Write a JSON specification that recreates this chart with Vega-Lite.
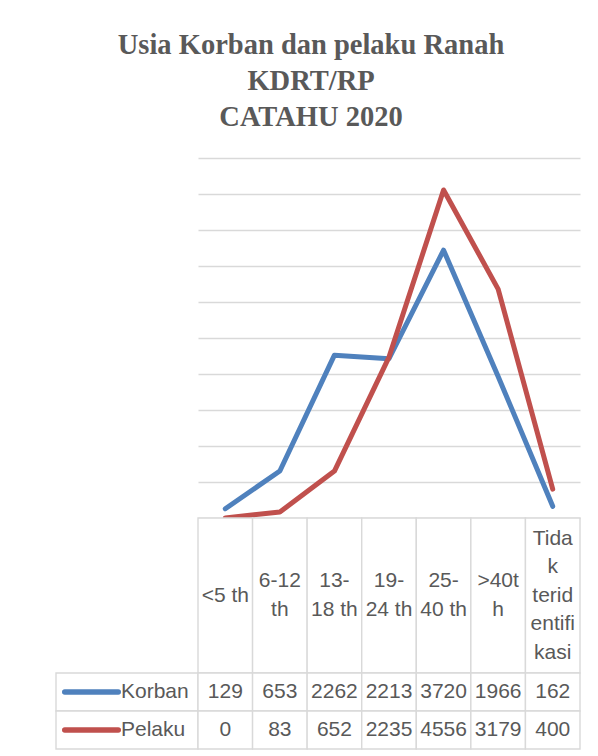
{
  "$schema": "https://vega.github.io/schema/vega-lite/v6.json",
  "padding": {"left": 53, "top": 30, "right": 10, "bottom": 0},
  "background": "white",
  "title": {
    "text": ["Usia Korban dan pelaku Ranah", "KDRT/RP", "CATAHU 2020"],
    "font": "Liberation Serif",
    "fontSize": 28.5,
    "fontWeight": "bold",
    "color": "#595959",
    "lineHeight": 36,
    "anchor": "middle",
    "frame": "group",
    "offset": 27,
    "dx": 255
  },
  "datasets": {
    "ages": [
      {"cat": "<5 th", "label": "<5 th", "series": "Korban", "value": 129},
      {"cat": "6-12 th", "label": "6-12\nth", "series": "Korban", "value": 653},
      {"cat": "13-18 th", "label": "13-\n18 th", "series": "Korban", "value": 2262},
      {"cat": "19-24 th", "label": "19-\n24 th", "series": "Korban", "value": 2213},
      {"cat": "25-40 th", "label": "25-\n40 th", "series": "Korban", "value": 3720},
      {"cat": ">40th", "label": ">40t\nh", "series": "Korban", "value": 1966},
      {"cat": "Tidak teridentifikasi", "label": "Tida\nk\nterid\nentifi\nkasi", "series": "Korban", "value": 162},
      {"cat": "<5 th", "label": "<5 th", "series": "Pelaku", "value": 0},
      {"cat": "6-12 th", "label": "6-12\nth", "series": "Pelaku", "value": 83},
      {"cat": "13-18 th", "label": "13-\n18 th", "series": "Pelaku", "value": 652},
      {"cat": "19-24 th", "label": "19-\n24 th", "series": "Pelaku", "value": 2235},
      {"cat": "25-40 th", "label": "25-\n40 th", "series": "Pelaku", "value": 4556},
      {"cat": ">40th", "label": ">40t\nh", "series": "Pelaku", "value": 3179},
      {"cat": "Tidak teridentifikasi", "label": "Tida\nk\nterid\nentifi\nkasi", "series": "Pelaku", "value": 400}
    ],
    "series": [{"series": "Korban"}, {"series": "Pelaku"}]
  },
  "columns": 2,
  "spacing": 0,
  "align": "each",
  "bounds": "flush",
  "concat": [
    {"width": 142, "height": 360, "data": {"values": []}, "mark": "rect"},
    {
      "width": 382,
      "height": 360,
      "data": {"name": "ages"},
      "mark": {"type": "line", "strokeWidth": 5, "strokeJoin": "round", "strokeCap": "round"},
      "encoding": {
        "x": {
          "field": "cat", "type": "nominal",
          "sort": ["<5 th", "6-12 th", "13-18 th", "19-24 th", "25-40 th", ">40th", "Tidak teridentifikasi"],
          "scale": {"type": "point", "padding": 0.5},
          "axis": null
        },
        "y": {
          "field": "value", "type": "quantitative",
          "scale": {"domain": [0, 5000], "nice": false, "zero": true},
          "axis": {
            "values": [0, 500, 1000, 1500, 2000, 2500, 3000, 3500, 4000, 4500, 5000],
            "grid": true, "gridColor": "#D9D9D9", "gridWidth": 1.3,
            "labels": false, "ticks": false, "domain": false, "title": null
          }
        },
        "color": {
          "field": "series", "type": "nominal",
          "scale": {"domain": ["Korban", "Pelaku"], "range": ["#4F81BD", "#C0504D"]},
          "legend": null
        }
      }
    },
    {"width": 142, "height": 155, "data": {"values": []}, "mark": "rect"},
    {
      "width": 382,
      "height": 155,
      "data": {"name": "ages"},
      "transform": [{"filter": "datum.series === 'Korban'"}],
      "encoding": {
        "x": {
          "field": "cat", "type": "nominal",
          "sort": ["<5 th", "6-12 th", "13-18 th", "19-24 th", "25-40 th", ">40th", "Tidak teridentifikasi"],
          "scale": {"type": "band", "paddingInner": 0, "paddingOuter": 0},
          "axis": null
        }
      },
      "layer": [
        {"mark": {"type": "rect", "fill": "white", "stroke": "#D9D9D9", "strokeWidth": 1.4}},
        {
          "mark": {
            "type": "text", "lineBreak": "\n", "lineHeight": 28.5, "fontSize": 21, "font": "Liberation Sans", "color": "#595959",
            "dy": {"expr": "-(length(split(datum.label, '\\n')) - 1) * 14.25"}
          },
          "encoding": {"text": {"field": "label"}}
        }
      ]
    },
    {
      "width": 142,
      "height": 76,
      "data": {"name": "series"},
      "encoding": {
        "y": {
          "field": "series", "type": "nominal",
          "scale": {"type": "band", "domain": ["Korban", "Pelaku"], "paddingInner": 0, "paddingOuter": 0},
          "axis": null
        }
      },
      "layer": [
        {"mark": {"type": "rect", "fill": "white", "stroke": "#D9D9D9", "strokeWidth": 1.4}},
        {
          "mark": {"type": "point", "shape": "M-1,0L1,0", "size": 2860, "filled": false, "strokeWidth": 5.5, "strokeCap": "round", "opacity": 1},
          "encoding": {
            "x": {"datum": "key", "type": "nominal", "scale": {"type": "band", "domain": ["key", "label"], "paddingInner": 0, "paddingOuter": 0}, "axis": null},
            "color": {"field": "series", "type": "nominal", "scale": {"domain": ["Korban", "Pelaku"], "range": ["#4F81BD", "#C0504D"]}, "legend": null}
          }
        },
        {
          "mark": {"type": "text", "align": "left", "dx": -6, "fontSize": 21, "font": "Liberation Sans", "color": "#595959"},
          "encoding": {
            "x": {"datum": "label", "type": "nominal", "bandPosition": 0, "scale": {"type": "band", "domain": ["key", "label"], "paddingInner": 0, "paddingOuter": 0}, "axis": null},
            "text": {"field": "series"}
          }
        }
      ]
    },
    {
      "width": 382,
      "height": 76,
      "data": {"name": "ages"},
      "encoding": {
        "x": {
          "field": "cat", "type": "nominal",
          "sort": ["<5 th", "6-12 th", "13-18 th", "19-24 th", "25-40 th", ">40th", "Tidak teridentifikasi"],
          "scale": {"type": "band", "paddingInner": 0, "paddingOuter": 0},
          "axis": null
        },
        "y": {
          "field": "series", "type": "nominal",
          "scale": {"type": "band", "domain": ["Korban", "Pelaku"], "paddingInner": 0, "paddingOuter": 0},
          "axis": null
        }
      },
      "layer": [
        {"mark": {"type": "rect", "fill": "white", "stroke": "#D9D9D9", "strokeWidth": 1.4}},
        {
          "mark": {"type": "text", "fontSize": 21, "font": "Liberation Sans", "color": "#595959"},
          "encoding": {"text": {"field": "value", "type": "quantitative", "format": "d"}}
        }
      ]
    }
  ],
  "config": {"view": {"stroke": null}}
}
